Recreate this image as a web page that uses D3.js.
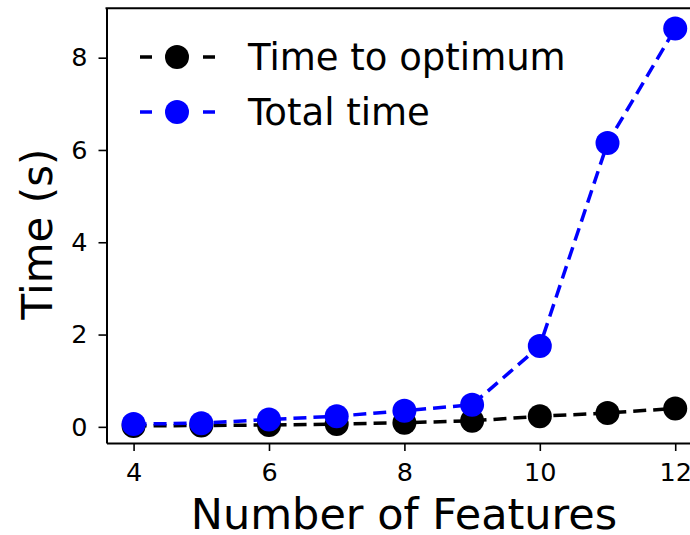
<!DOCTYPE html>
<html>
<head>
<meta charset="utf-8">
<script src="https://cdn.jsdelivr.net/npm/d3@7"></script>
<style>
  body { margin: 0; background: #fff; }
  svg { display: block; font-family: "DejaVu Sans", sans-serif; }
</style>
</head>
<body>
<svg id="chart" width="690" height="535"></svg>
<script>
var features = [4, 5, 6, 7, 8, 9, 10, 11, 12];
var timeToOptimum = [0.02, 0.03, 0.04, 0.06, 0.09, 0.13, 0.23, 0.30, 0.40];
var totalTime = [0.06, 0.08, 0.16, 0.23, 0.35, 0.48, 1.75, 6.15, 8.63];
var xTicks = [4, 6, 8, 10, 12];
var yTicks = [0, 2, 4, 6, 8];

var series = [
    { name: "Time to optimum", values: timeToOptimum, color: "#000000" },
    { name: "Total time", values: totalTime, color: "#0000ff" }
];

var width = 690, height = 535;
var plot = { left: 106.5, top: 8.3, bottom: 443, right: 702.3 };
var dash = "13,7";

var svg = d3.select("#chart");

// right edge of the axes box is cropped off the picture
var x = d3.scaleLinear().domain([3.6, 12.4]).range([plot.left, plot.right]);
var y = d3.scaleLinear().domain([-0.35, 9.07]).range([plot.bottom, plot.top]);

var xAxis = svg.append("g")
    .attr("transform", "translate(0," + plot.bottom + ")")
    .call(d3.axisBottom(x).tickValues(xTicks).tickSizeInner(8).tickSizeOuter(0)
        .tickPadding(12).tickFormat(d3.format("d")));
var yAxis = svg.append("g")
    .attr("transform", "translate(" + plot.left + ",0)")
    .call(d3.axisLeft(y).tickValues(yTicks).tickSizeInner(8).tickSizeOuter(0)
        .tickPadding(11).tickFormat(d3.format("d")));

[xAxis, yAxis].forEach(function(g){
    g.selectAll("text").attr("font-size", 25.5).attr("font-family", "DejaVu Sans").attr("fill", "#000");
    g.selectAll("line").attr("stroke", "#000").attr("stroke-width", 1.6);
    g.select(".domain").attr("stroke", "#000").attr("stroke-width", 2);
});

// top spine
svg.append("line")
    .attr("x1", plot.left - 1).attr("x2", plot.right)
    .attr("y1", plot.top).attr("y2", plot.top)
    .attr("stroke", "#000").attr("stroke-width", 2);

var line = d3.line()
    .x(function(d, i){ return x(features[i]); })
    .y(function(d){ return y(d); });

series.forEach(function(s){
    var g = svg.append("g");
    g.append("path")
        .datum(s.values)
        .attr("d", line)
        .attr("fill", "none")
        .attr("stroke", s.color)
        .attr("stroke-width", 3.5)
        .attr("stroke-dasharray", dash);
    g.selectAll("circle")
        .data(s.values)
        .enter().append("circle")
        .attr("cx", function(d, i){ return x(features[i]); })
        .attr("cy", function(d){ return y(d); })
        .attr("r", 12)
        .attr("fill", s.color);
});

// axis labels
svg.append("text")
    .attr("x", 404).attr("y", 529)
    .attr("text-anchor", "middle")
    .attr("font-size", 43)
    .text("Number of Features");
svg.append("text")
    .attr("transform", "translate(52,234) rotate(-90)")
    .attr("text-anchor", "middle")
    .attr("font-size", 42)
    .text("Time (s)");

// legend
var legend = svg.append("g");
series.forEach(function(s, i){
    var ly = 57 + i * 55;
    legend.append("line")
        .attr("x1", 140).attr("x2", 215)
        .attr("y1", ly).attr("y2", ly)
        .attr("stroke", s.color).attr("stroke-width", 3.5)
        .attr("stroke-dasharray", "12,19.5");
    legend.append("circle")
        .attr("cx", 177).attr("cy", ly).attr("r", 12)
        .attr("fill", s.color);
    legend.append("text")
        .attr("x", 248).attr("y", ly + 13)
        .attr("font-size", 37)
        .text(s.name);
});
</script>
</body>
</html>
